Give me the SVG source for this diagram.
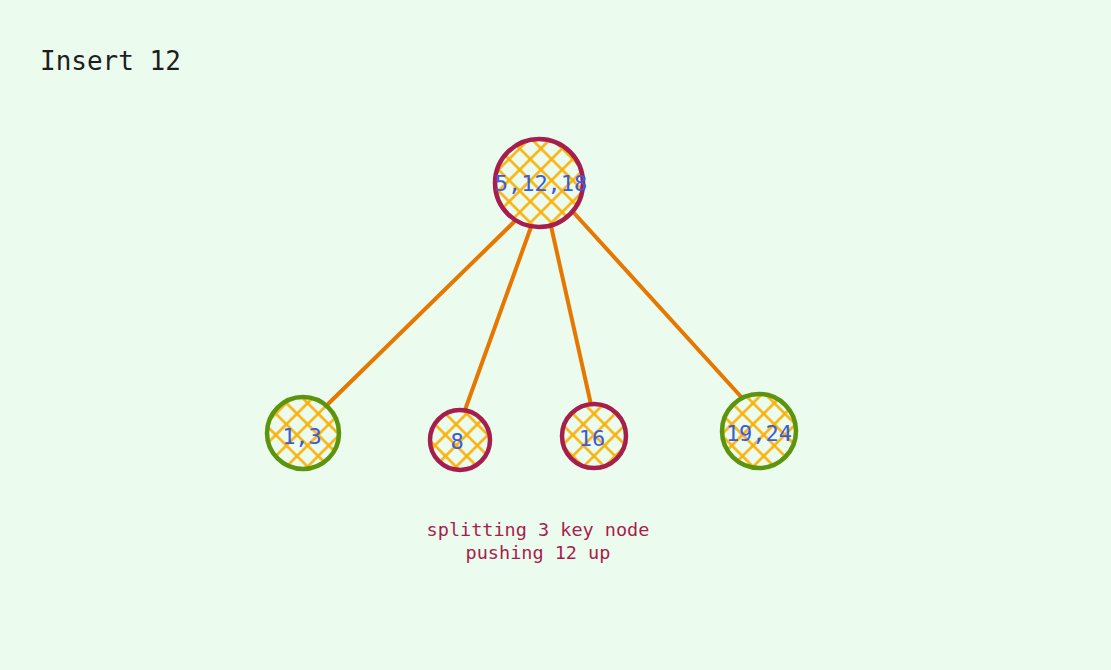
<svg xmlns="http://www.w3.org/2000/svg" width="1111" height="670" viewBox="0 0 1111 670">
<style>
.lbl{font-family:"DejaVu Sans Mono","Liberation Mono",monospace;font-size:22px;fill:#3b5bdb;text-anchor:middle;dominant-baseline:central}
.red{fill:url(#hatch);stroke:#a61e4d;stroke-width:4.5}
.grn{fill:url(#hatch);stroke:#5c940d;stroke-width:4.5}
.conn{stroke:#e67700;stroke-width:4;stroke-linecap:round;fill:none}
.note{font-family:"DejaVu Sans Mono","Liberation Mono",monospace;font-size:18.5px;fill:#a61e4d;text-anchor:middle}
</style>
<defs>
<pattern id="hatch" width="15" height="15" patternUnits="userSpaceOnUse" patternTransform="rotate(45)">
<rect width="15" height="15" fill="#ebfbee"/>
<line x1="0" y1="7.5" x2="15" y2="7.5" stroke="#fab005" stroke-width="2.5"/>
<line x1="7.5" y1="0" x2="7.5" y2="15" stroke="#fab005" stroke-width="2.5"/>
</pattern>
</defs>
<rect width="1111" height="670" fill="#ebfbee"/>
<text x="40" y="70" font-family="DejaVu Sans Mono,Liberation Mono,monospace" font-size="26" fill="#1e1e1e">Insert 12</text>
<g id="connectors">
<line class="conn" x1="514" y1="222" x2="327" y2="405"/>
<line class="conn" x1="531" y1="227" x2="465" y2="410"/>
<line class="conn" x1="551" y1="226" x2="592" y2="409"/>
<line class="conn" x1="574" y1="213" x2="744" y2="400"/>
</g>
<g id="n-root"><circle class="red" cx="539" cy="183" r="44"/><text class="lbl" x="541" y="183">5,12,18</text></g>
<g id="n-13"><circle class="grn" cx="303" cy="433" r="36"/><text class="lbl" x="302" y="436">1,3</text></g>
<g id="n-8"><circle class="red" cx="460" cy="440" r="30"/><text class="lbl" x="457" y="441">8</text></g>
<g id="n-16"><circle class="red" cx="594" cy="436" r="32"/><text class="lbl" x="592" y="438">16</text></g>
<g id="n-1924"><circle class="grn" cx="759" cy="431" r="37"/><text class="lbl" x="759" y="433">19,24</text></g>
<g id="note"><text class="note" x="538" y="536">splitting 3 key node</text><text class="note" x="538" y="559">pushing 12 up</text></g>
</svg>
